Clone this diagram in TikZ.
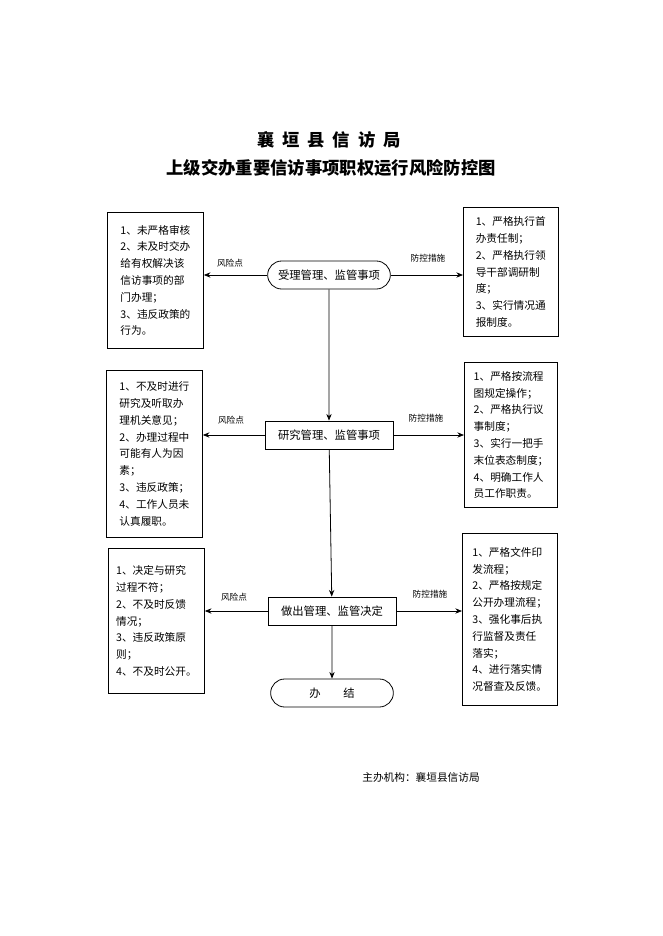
\documentclass[tikz,border=0pt]{standalone}
\usepackage{fontspec}
\setmainfont{Noto Sans CJK SC}
\usetikzlibrary{arrows.meta,shapes.misc}
\tikzset{
  riskbox/.style={draw=black, line width=0.6pt, anchor=north west, align=left, inner sep=4pt, font=\fontsize{8}{12.6}\selectfont},
  stepnode/.style={draw=black, line width=0.6pt, minimum width=96pt, minimum height=21pt, inner sep=2pt, font=\fontsize{8.5}{10}\selectfont},
  roundnode/.style={stepnode, rounded rectangle},
  lbl/.style={font=\fontsize{6.5}{8}\selectfont},
  flow/.style={-{Stealth[length=5pt,width=4pt]}, line width=0.6pt},
}
\begin{document}
\begin{tikzpicture}[x=0.75pt,y=-0.75pt]
\useasboundingbox (0,0) rectangle (662,936);
\node [font=\fontsize{13}{15}\selectfont\bfseries] (title1) at (329,140) {襄\ \ 垣\ \ 县\ \ 信\ \ 访\ \ 局};
\node [font=\fontsize{13}{15}\selectfont\bfseries] (title2) at (331,168) {上级交办重要信访事项职权运行风险防控图};

\node [roundnode] (accept) at (329,275) {受理管理、监管事项};
\node [stepnode] (study) at (329,435) {研究管理、监管事项};
\node [stepnode] (decide) at (332,611) {做出管理、监管决定};
\node [roundnode] (finish) at (332,693) {办\qquad 结};

\node [riskbox, minimum width=72pt, minimum height=102pt] (risk1) at (107,212) {1、未严格审核\\2、未及时交办\\给有权解决该\\信访事项的部\\门办理；\\3、违反政策的\\行为。};
\node [riskbox, minimum width=72pt, minimum height=125pt] (risk2) at (106,370) {1、不及时进行\\研究及听取办\\理机关意见；\\2、办理过程中\\可能有人为因\\素；\\3、违反政策；\\4、工作人员未\\认真履职。};
\node [riskbox, minimum width=72pt, minimum height=109pt] (risk3) at (108,548) {1、决定与研究\\过程不符；\\2、不及时反馈\\情况；\\3、违反政策原\\则；\\4、不及时公开。};

\node [riskbox, minimum width=71pt, minimum height=97pt] (ctrl1) at (463,207) {1、严格执行首\\办责任制；\\2、严格执行领\\导干部调研制\\度；\\3、实行情况通\\报制度。};
\node [riskbox, minimum width=70pt, minimum height=109pt] (ctrl2) at (464,362) {1、严格按流程\\图规定操作；\\2、严格执行议\\事制度；\\3、实行一把手\\末位表态制度；\\4、明确工作人\\员工作职责。};
\node [riskbox, minimum width=71pt, minimum height=129pt] (ctrl3) at (462,533) {1、严格文件印\\发流程；\\2、严格按规定\\公开办理流程；\\3、强化事后执\\行监督及责任\\落实；\\4、进行落实情\\况督查及反馈。};

\draw [flow] (accept) -- (study);
\draw [flow] (study) -- (decide);
\draw [flow] (decide) -- (finish);
\draw [flow] (accept.west) -- (accept.west -| risk1.east);
\draw [flow] (accept.east) -- (accept.east -| ctrl1.west);
\draw [flow] (study.west) -- (study.west -| risk2.east);
\draw [flow] (study.east) -- (study.east -| ctrl2.west);
\draw [flow] (decide.west) -- (decide.west -| risk3.east);
\draw [flow] (decide.east) -- (decide.east -| ctrl3.west);

\node [lbl] (risk1lbl) at (230,263) {风险点};
\node [lbl] (ctrl1lbl) at (428,258) {防控措施};
\node [lbl] (risk2lbl) at (231,420) {风险点};
\node [lbl] (ctrl2lbl) at (426,418) {防控措施};
\node [lbl] (risk3lbl) at (234,597) {风险点};
\node [lbl] (ctrl3lbl) at (430,594) {防控措施};

\node [font=\fontsize{8}{10}\selectfont] (org) at (421,777) {主办机构：襄垣县信访局};
\end{tikzpicture}
\end{document}
